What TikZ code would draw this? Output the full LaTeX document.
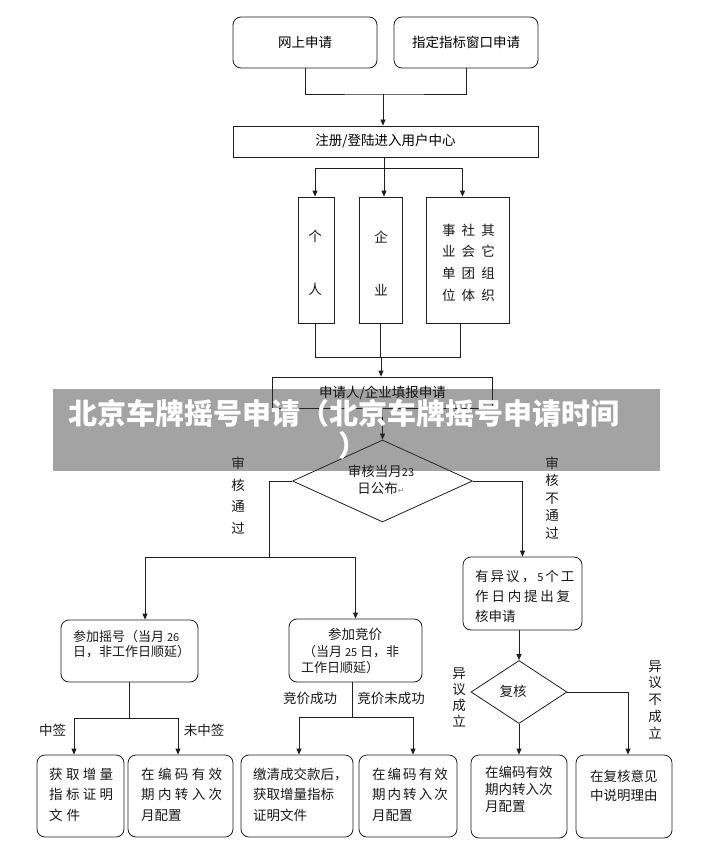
\documentclass[tikz,border=0pt]{standalone}
\usepackage{fontspec}
\setmainfont{Noto Sans CJK SC}
\newfontfamily\dejavu{DejaVu Sans}
\usetikzlibrary{arrows.meta,shapes.geometric}
\newcommand{\spr}[2]{\makebox[#1][s]{#2}}
\begin{document}
\begin{tikzpicture}[x=1pt,y=-1pt,
  ln/.style={line width=0.8pt, draw=black!88},
  rbox/.style={ln, rounded corners=8pt, inner sep=0pt, font=\fontsize{13.5}{16}\selectfont},
  sbox/.style={ln, inner sep=0pt, font=\fontsize{13.5}{16}\selectfont},
  dbox/.style={ln, diamond, inner sep=0pt},
  arr/.style={ln, -{Triangle[length=6pt,width=5pt]}},
  txt/.style={inner sep=0pt, font=\fontsize{13.5}{16}\selectfont, text=black!90},
  vlab/.style={inner sep=0pt, align=center, text=black!90},
  banner/.style={inner sep=0pt, anchor=west, text=white, font=\bfseries\fontsize{29}{31}\selectfont}]
\useasboundingbox (0,0) rectangle (713,861);
\fill[white] (0,0) rectangle (713,861);

% --- boxes
\node[rbox, minimum width=144pt, minimum height=51pt] (web) at (305,42.5) {网上申请};
\node[rbox, minimum width=144pt, minimum height=51pt] (win) at (466,42.5) {指定指标窗口申请};
\node[sbox, minimum width=305pt, minimum height=31pt] (reg) at (385.5,141.5) {注册/登陆进入用户中心};
\node[sbox, minimum width=36pt, minimum height=126pt] (ind) at (316,260) {};
\node[sbox, minimum width=43pt, minimum height=126pt] (ent) at (380.5,260) {};
\node[sbox, minimum width=83pt, minimum height=126pt] (oth) at (467.5,260) {};
\node[sbox, minimum width=220pt, minimum height=31pt] (app) at (382.5,392.5) {申请人/企业填报申请};
\node[dbox, minimum width=180pt, minimum height=82pt] (d1) at (382.5,481) {};
\node[rbox, minimum width=137pt, minimum height=62pt] (lot) at (129.5,651) {};
\node[rbox, minimum width=133pt, minimum height=63pt] (bid) at (355.5,650.5) {};
\node[rbox, minimum width=119pt, minimum height=73pt] (obj) at (522.5,593.5) {};
\node[dbox, minimum width=96pt, minimum height=63pt] (d2) at (519,692) {};
\node[rbox, minimum width=87pt, minimum height=82pt] (ba) at (80.5,796) {};
\node[rbox, minimum width=105pt, minimum height=82pt] (bb) at (180.5,796) {};
\node[rbox, minimum width=112pt, minimum height=82pt] (bc) at (297,796) {};
\node[rbox, minimum width=98pt, minimum height=82pt] (bd) at (408,796) {};
\node[rbox, minimum width=96pt, minimum height=83pt] (be) at (519,796.5) {};
\node[rbox, minimum width=96pt, minimum height=83pt] (bf) at (624,796.5) {};

% --- texts inside boxes
\node[vlab, font=\fontsize{13.5}{53}\selectfont] (tind) at (315,263) {个\\人};
\node[vlab, font=\fontsize{13.5}{53}\selectfont] (tent) at (381,263) {企\\业};
\node[vlab, font=\fontsize{13.5}{21.7}\selectfont] (toth) at (468.5,262.5)
  {\spr{53pt}{事 社 其}\\\spr{53pt}{业 会 它}\\\spr{53pt}{单 团 组}\\\spr{53pt}{位 体 织}};
\node[txt, align=center, font=\fontsize{13.5}{16.5}\selectfont] (td1) at (381,480)
  {审核当月{\fontsize{11}{13}\selectfont 23}\\日公布{\dejavu\fontsize{8}{10}\selectfont\color{black!45}↵}};
\node[txt] (td2) at (513,691) {复核};
\node[txt, align=left, anchor=west, font=\fontsize{13}{14.5}\selectfont] (tlot) at (73,644)
  {参加摇号（当月 {\fontsize{11}{13}\selectfont 26}\\日，非工作日顺延）};
\node[txt] (tbid1) at (355,634) {参加竞价};
\node[txt, anchor=west, font=\fontsize{13}{15}\selectfont] (tbid2) at (303,652) {（当月 {\fontsize{11}{13}\selectfont 25} 日，非};
\node[txt, anchor=west, font=\fontsize{13}{15}\selectfont] (tbid3) at (301,668) {工作日顺延）};
\node[txt, align=left, anchor=west, font=\fontsize{13.5}{20}\selectfont] (tobj) at (475,596)
  {\spr{95pt}{有 异 议 ， {\fontsize{11}{13}\selectfont 5} 个 工}\\\spr{95pt}{作 日 内 提 出 复}\\核申请};
\node[txt, align=left, anchor=west, font=\fontsize{13.5}{20.5}\selectfont] (tba) at (49,794.5)
  {\spr{64pt}{获 取 增 量}\\\spr{64pt}{指 标 证 明}\\\spr{31pt}{文 件}};
\node[txt, align=left, anchor=west, font=\fontsize{13.5}{20.5}\selectfont] (tbb) at (141,794.5)
  {\spr{81pt}{在 编 码 有 效}\\\spr{81pt}{期 内 转 入 次}\\月配置};
\node[txt, align=left, anchor=west, font=\fontsize{13.5}{20.5}\selectfont] (tbc) at (253,794.5)
  {缴清成交款后，\\获取增量指标\\证明文件};
\node[txt, align=left, anchor=west, font=\fontsize{13.5}{20.5}\selectfont] (tbd) at (372,794.5)
  {\spr{73pt}{在 编 码 有 效}\\\spr{73pt}{期 内 转 入 次}\\月配置};
\node[txt, align=left, anchor=west, font=\fontsize{13.5}{17}\selectfont] (tbe) at (485,789)
  {在编码有效\\期内转入次\\月配置};
\node[txt, align=left, anchor=west, font=\fontsize{13.5}{19}\selectfont] (tbf) at (590,785.5)
  {在复核意见\\中说明理由};

% --- connector labels
\node[vlab, font=\fontsize{13.5}{21.5}\selectfont] (l1) at (238,495.5) {审\\核\\通\\过};
\node[vlab, font=\fontsize{13.5}{17.5}\selectfont] (l2) at (552,498) {审\\核\\不\\通\\过};
\node[txt] (l3) at (310,698) {竞价成功};
\node[txt] (l4) at (391,698) {竞价未成功};
\node[txt] (l5) at (52.5,730) {中签};
\node[txt] (l6) at (204,730) {未中签};
\node[vlab, font=\fontsize{13.5}{16}\selectfont] (l7) at (459,697) {异\\议\\成\\立};
\node[vlab, font=\fontsize{13.5}{16.75}\selectfont] (l8) at (655,699.5) {异\\议\\不\\成\\立};

% --- connectors
\coordinate (j1) at (383,94);
\draw[ln] (web.south) |- (j1) -| (win.south);
\draw[arr] (j1) -- (j1 |- reg.north);
\coordinate (j2) at (384,168);
\draw[ln] (reg.south -| j2) -- (j2);
\draw[arr] (j2) -- (j2 |- ent.north);
\draw[arr] (j2) -| ([xshift=-1pt]ind.north);
\draw[arr] (j2) -| ([xshift=-5pt]oth.north);
\coordinate (j3) at (381,357);
\draw[ln] ([xshift=-1pt]ind.south) |- (j3);
\draw[ln] ([xshift=-7pt]oth.south) |- (j3);
\draw[ln] (ent.south) -- (ent.south |- j3);
\draw[arr] (j3) -- (j3 |- app.north);
\draw[arr] (app.south) -- (d1.north);
\coordinate (j4) at (269,557);
\draw[ln] (d1.west) -| (j4);
\draw[arr] (j4) -| ([xshift=15.5pt]lot.north);
\draw[arr] (j4) -| (bid.north);
\draw[arr] (d1.east) -| (obj.north);
\coordinate (j5) at (129.5,718);
\draw[ln] (lot.south) -- (j5);
\draw[arr] (j5) -| ([xshift=-6.5pt]ba.north);
\draw[arr] (j5) -| ([xshift=-2.5pt]bb.north);
\coordinate (j6) at (352,717);
\draw[ln] (bid.south -| j6) -- (j6);
\draw[arr] (j6) -| ([xshift=2pt]bc.north);
\draw[arr] (j6) -| ([xshift=5pt]bd.north);
\draw[arr] (obj.south -| d2.north) -- (d2.north);
\draw[arr] (d2.south) -- (be.north);
\draw[arr] (d2.east) -| ([xshift=4pt]bf.north);

% --- overlay banner
\fill[black!82, opacity=0.44] (53,389) rectangle (660,471);
\node[banner] (bt1) at (68,413) {北京车牌摇号申请（北京车牌摇号申请时间};
\node[banner] (bt2) at (338,445) {）};
\end{tikzpicture}
\end{document}
